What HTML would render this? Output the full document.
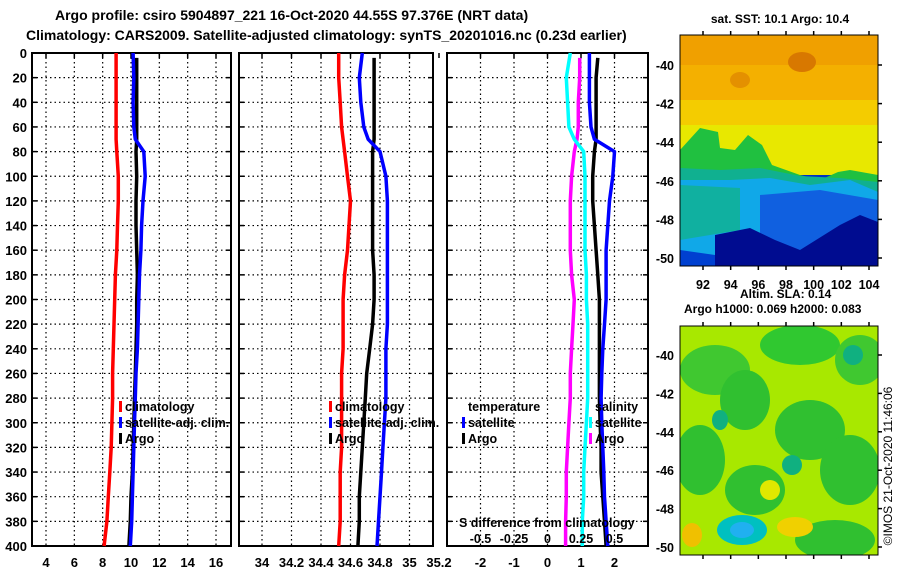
<!DOCTYPE html>
<html><head><meta charset="utf-8"><style>
html,body{margin:0;padding:0;background:#fff;}
svg{display:block;font-family:"Liberation Sans",sans-serif;font-weight:bold;}
</style></head><body>
<svg id="c" width="900" height="580" viewBox="0 0 900 580" xmlns="http://www.w3.org/2000/svg">
<text x="55" y="20" font-size="14">Argo profile: csiro 5904897_221 16-Oct-2020 44.55S 97.376E (NRT data)</text>
<text x="26" y="40" font-size="14">Climatology: CARS2009. Satellite-adjusted climatology: synTS_20201016.nc (0.23d earlier)</text>
<g id="plots"></g>
<text x="780" y="23" font-size="12" text-anchor="middle">sat. SST: 10.1 Argo: 10.4</text>
<g>
<clipPath id="cp1"><rect x="680" y="35" width="198" height="231"/></clipPath>
<g clip-path="url(#cp1)">
<rect x="680" y="35" width="198" height="231" fill="#0030c0"/>
<rect x="680" y="35" width="198" height="140" fill="#e8e800"/>
<rect x="680" y="35" width="198" height="80" fill="#f4b000"/>
<rect x="680" y="35" width="198" height="30" fill="#f0a000"/>
<rect x="680" y="100" width="198" height="25" fill="#f4cc00"/>
<ellipse cx="802" cy="62" rx="14" ry="10" fill="#d87800"/>
<ellipse cx="740" cy="80" rx="10" ry="8" fill="#e49000"/>
<polygon points="680,150 700,128 718,132 720,148 735,150 748,135 762,145 772,165 800,175 820,180 838,172 850,170 878,175 878,190 680,190" fill="#20c040"/>
<polygon points="680,168 720,170 760,168 800,176 840,178 878,182 878,200 680,200" fill="#10b090"/>
<polygon points="680,180 730,180 770,178 810,185 850,180 878,192 878,266 680,266" fill="#10a8e8"/>
<polygon points="680,185 740,188 740,230 680,240" fill="#10b0a0"/>
<polygon points="760,195 820,190 878,200 878,266 760,266" fill="#1060e0"/>
<polygon points="715,235 750,228 775,240 800,250 840,225 860,215 878,222 878,266 715,266" fill="#000c90"/>
<polygon points="680,250 715,255 715,266 680,266" fill="#0040d0"/>
</g>
<rect x="680" y="35" width="198" height="231" fill="none" stroke="#000" stroke-width="1"/>
</g>
<g id="sstaxes"></g>
<text x="740" y="298" font-size="12">Altim. SLA: 0.14</text>
<text x="684" y="313" font-size="12">Argo h1000: 0.069 h2000: 0.083</text>
<g>
<clipPath id="cp2"><rect x="680" y="326" width="198" height="229"/></clipPath>
<g clip-path="url(#cp2)">
<rect x="680" y="326" width="198" height="229" fill="#a8e800"/>
<ellipse cx="715" cy="370" rx="35" ry="25" fill="#40c830"/>
<ellipse cx="800" cy="345" rx="40" ry="20" fill="#30c830"/>
<ellipse cx="860" cy="360" rx="25" ry="25" fill="#40c830"/>
<ellipse cx="745" cy="400" rx="25" ry="30" fill="#30c030"/>
<ellipse cx="700" cy="460" rx="25" ry="35" fill="#30c030"/>
<ellipse cx="810" cy="430" rx="35" ry="30" fill="#30c030"/>
<ellipse cx="850" cy="470" rx="30" ry="35" fill="#30c030"/>
<ellipse cx="755" cy="490" rx="30" ry="25" fill="#30c030"/>
<ellipse cx="835" cy="540" rx="40" ry="20" fill="#30c030"/>
<ellipse cx="742" cy="530" rx="25" ry="15" fill="#00c0c0"/>
<ellipse cx="742" cy="530" rx="12" ry="8" fill="#20b0f0"/>
<ellipse cx="720" cy="420" rx="8" ry="10" fill="#10b080"/>
<ellipse cx="792" cy="465" rx="10" ry="10" fill="#10b080"/>
<ellipse cx="853" cy="355" rx="10" ry="10" fill="#10b080"/>
<ellipse cx="692" cy="535" rx="10" ry="12" fill="#f0c000"/>
<ellipse cx="795" cy="527" rx="18" ry="10" fill="#f0d000"/>
<ellipse cx="770" cy="490" rx="10" ry="10" fill="#e0e800"/>
</g>
<rect x="680" y="326" width="198" height="229" fill="none" stroke="#000" stroke-width="1"/>
</g>
<text transform="translate(892,466) rotate(-90)" font-size="12" font-weight="normal" text-anchor="middle">©IMOS 21-Oct-2020 11:46:06</text>
</svg>
<script>
// ---- data ----
const depths      = [0,20,40,60,70,80,100,120,140,160,180,200,220,240,260,280,300,320,340,360,380,400];
const tempClim    = [8.95,8.95,8.95,8.95,8.95,9.0,9.1,9.1,9.05,9.0,8.9,8.85,8.8,8.75,8.7,8.7,8.65,8.6,8.5,8.4,8.3,8.1];
const tempSat     = [10.15,10.2,10.15,10.2,10.3,10.9,11.0,10.85,10.75,10.7,10.6,10.55,10.5,10.45,10.35,10.3,10.25,10.2,10.15,10.1,10.05,9.95];
const tempArgo    = [10.4,10.4,10.4,10.4,10.4,10.35,10.4,10.35,10.35,10.4,10.45,10.4,10.4,10.35,10.3,10.25,10.2,10.15,10.1,10.0,9.95,9.85];
const salClim     = [34.52,34.52,34.53,34.54,34.55,34.56,34.58,34.6,34.59,34.58,34.56,34.55,34.55,34.55,34.54,34.54,34.54,34.54,34.53,34.53,34.53,34.52];
const salSat      = [34.68,34.66,34.67,34.69,34.72,34.8,34.84,34.85,34.85,34.85,34.85,34.85,34.85,34.84,34.84,34.84,34.83,34.82,34.81,34.8,34.79,34.78];
const salArgo     = [34.76,34.76,34.76,34.76,34.76,34.75,34.75,34.75,34.75,34.75,34.76,34.76,34.75,34.73,34.71,34.7,34.69,34.68,34.67,34.66,34.66,34.65];
const dTempSat    = [1.25,1.25,1.25,1.3,1.4,2.0,1.95,1.85,1.8,1.75,1.75,1.75,1.7,1.65,1.62,1.6,1.62,1.65,1.68,1.7,1.75,1.8];
const dTempArgo   = [1.5,1.45,1.45,1.45,1.45,1.4,1.35,1.35,1.4,1.45,1.5,1.55,1.55,1.55,1.55,1.55,1.57,1.6,1.6,1.65,1.7,1.75];
const dSalSat     = [0.17,0.14,0.15,0.16,0.2,0.27,0.28,0.28,0.28,0.28,0.29,0.29,0.3,0.3,0.3,0.3,0.29,0.28,0.27,0.27,0.26,0.26];
const dSalArgo    = [0.24,0.24,0.23,0.23,0.22,0.2,0.18,0.17,0.17,0.17,0.18,0.2,0.19,0.18,0.17,0.17,0.16,0.15,0.14,0.14,0.135,0.135];
const depthTicks  = [0,20,40,60,80,100,120,140,160,180,200,220,240,260,280,300,320,340,360,380,400];
const tempTicks   = [4,6,8,10,12,14,16];
const salTicks    = [34,34.2,34.4,34.6,34.8,35,35.2];
const salTickLabels = ["34","34.2","34.4","34.6","34.8","35","35.2"];
const dTempTicks  = [-2,-1,0,1,2];
const dSalTicks   = [-0.5,-0.25,0,0.25,0.5];
const dSalTickLabels = ["-0.5","-0.25","0","0.25","0.5"];
const latTicks    = [-40,-42,-44,-46,-48,-50];
const lonTicks    = [92,94,96,98,100,102,104];

const NS='http://www.w3.org/2000/svg';
const root=document.getElementById('plots');
function mk(tag,attrs,parent){const e=document.createElementNS(NS,tag);for(const k in attrs)e.setAttribute(k,attrs[k]);(parent||root).appendChild(e);return e;}
const Y0=53,Y1=546;
const yD=d=>Y0+(d/400)*(Y1-Y0);
function lin(d0,d1,r0,r1){return v=>r0+(v-d0)/(d1-d0)*(r1-r0);}

const panels=[
 {x0:32,x1:231,sx:lin(4,16,46,216),ticks:tempTicks,labels:tempTicks.map(String),name:'temperature'},
 {x0:239,x1:433,sx:lin(34,35.2,262,439),ticks:salTicks,labels:salTickLabels,name:'salinity'},
 {x0:447,x1:648,sx:lin(-3,3,447,648),ticks:dTempTicks,labels:dTempTicks.map(String),name:'difference'}
];
panels.forEach((p,i)=>{
  const g=mk('g',{});
  
  
  depthTicks.forEach(d=>{
    const y=yD(d);
    if(d>0&&d<400){const l=mk('line',{x1:p.x0,x2:p.x1,y1:y,y2:y,stroke:'#000','stroke-width':1.2,'stroke-dasharray':'1.5,3'},g);
      
      }
    mk('line',{x1:p.x0,x2:p.x0+5,y1:y,y2:y,stroke:'#000','stroke-width':1.5},g);
    mk('line',{x1:p.x1,x2:p.x1-5,y1:y,y2:y,stroke:'#000','stroke-width':1.5},g);
    if(i===0){const t=mk('text',{x:27,y:y+5,'font-size':13,'text-anchor':'end'},g);t.textContent=d;
      
      }
  });
  p.ticks.forEach((v,k)=>{
    const x=p.sx(v);
    if(x>p.x0+1&&x<p.x1-1){const l=mk('line',{x1:x,x2:x,y1:Y0,y2:Y1,stroke:'#000','stroke-width':1.2,'stroke-dasharray':'1.5,3'},g);
      
      }
    mk('line',{x1:x,x2:x,y1:Y0,y2:Y0+5,stroke:'#000','stroke-width':1.5},g);
    const t=mk('text',{x:x,y:567,'font-size':13,'text-anchor':'middle'},g);t.textContent=p.labels[k];
    
    
  });
  const r=mk('rect',{x:p.x0,y:Y0,width:p.x1-p.x0,height:Y1-Y0,fill:'none',stroke:'#000','stroke-width':2},g);
  
  
  p.g=g;
});
function series(panel,vals,sx,color,name){
  let d='';
  vals.forEach((v,k)=>{const dd=(k===0&&name.indexOf('argo')>=0)?4:depths[k];d+=(d?'L':'M')+sx(v).toFixed(1)+','+yD(dd).toFixed(1);});
  const e=mk('path',{d:d,fill:'none',stroke:color,'stroke-width':3.5,'stroke-linejoin':'round'},panel.g);
  
  
}
const sT=panels[0].sx,sS=panels[1].sx,sDT=panels[2].sx,sDS=lin(-0.75,0.75,447,648);
series(panels[0],tempClim,sT,'#ff0000','temp-climatology-line');
series(panels[0],tempArgo,sT,'#000000','temp-argo-line');
series(panels[0],tempSat,sT,'#0000ff','temp-satellite-line');
series(panels[1],salClim,sS,'#ff0000','sal-climatology-line');
series(panels[1],salArgo,sS,'#000000','sal-argo-line');
series(panels[1],salSat,sS,'#0000ff','sal-satellite-line');
series(panels[2],dSalArgo,sDS,'#ff00ff','sal-diff-argo-line');
series(panels[2],dSalSat,sDS,'#00ffff','sal-diff-satellite-line');
series(panels[2],dTempArgo,sDT,'#000000','temp-diff-argo-line');
series(panels[2],dTempSat,sDT,'#0000ff','temp-diff-satellite-line');

function legend(x,y,color,label,name){
  if(color){const m=mk('rect',{x:x-6,y:y-10,width:3,height:11,fill:color});
    
    }
  const t=mk('text',{x:x,y:y,'font-size':12.5});t.textContent=label;
  
  
}
legend(125,411,'#ff0000','climatology','legend-climatology');
legend(125,427,'#0000ff','satellite-adj. clim.','legend-satellite');
legend(125,443,'#000000','Argo','legend-argo');
legend(335,411,'#ff0000','climatology','legend2-climatology');
legend(335,427,'#0000ff','satellite-adj. clim.','legend2-satellite');
legend(335,443,'#000000','Argo','legend2-argo');
legend(468,411,null,'temperature','legend3-temperature-header');
legend(468,427,'#0000ff','satellite','legend3-temp-satellite');
legend(468,443,'#000000','Argo','legend3-temp-argo');
legend(595,411,null,'salinity','legend3-salinity-header');
legend(595,427,'#00ffff','satellite','legend3-sal-satellite');
legend(595,443,'#ff00ff','Argo','legend3-sal-argo');
legend(459,527,null,'S difference from climatology','s-diff-axis-title');
dSalTicks.forEach((v,k)=>{const t=mk('text',{x:sDS(v),y:543,'font-size':12.5,'text-anchor':'middle'});t.textContent=dSalTickLabels[k];
  
  });

const ax=document.getElementById('sstaxes');
function mapAxes(yTop,yBot,latY0,latY1,showLon){
  const ly=lin(-40,-50,latY0,latY1);
  latTicks.forEach(v=>{const y=ly(v);
    mk('line',{x1:878,x2:882,y1:y,y2:y,stroke:'#000','stroke-width':1.5},ax);
    const t=mk('text',{x:674,y:y+5,'font-size':12.5,'text-anchor':'end'},ax);t.textContent=v;
    
    });
  const lx=lin(92,104,703,869);
  lonTicks.forEach(v=>{const x=lx(v);
    mk('line',{x1:x,x2:x,y1:yBot,y2:yBot+4,stroke:'#000','stroke-width':1.5},ax);
    mk('line',{x1:x,x2:x,y1:yTop,y2:yTop-4,stroke:'#000','stroke-width':1.5},ax);
    if(showLon){const t=mk('text',{x:x,y:289,'font-size':12.5,'text-anchor':'middle'},ax);t.textContent=v;
      
      }});
}
mapAxes(35,266,65,258,true);
mapAxes(326,555,355,547,false);
</script>
</body></html>
